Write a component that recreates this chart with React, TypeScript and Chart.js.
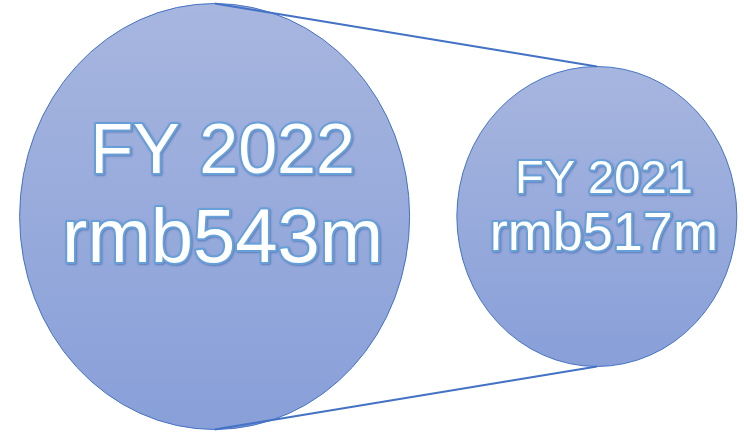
import React, { useEffect, useRef } from "react";
import { Chart, registerables } from "chart.js";

Chart.register(...registerables);

// ---- data ----
const years = ["FY 2022", "FY 2021"];
const revenueLabels = ["rmb543m", "rmb517m"];
const revenueValues = [543, 517];
const xPositions = [0, 1];

// ---- styles (not data) ----
const radiiX = [195, 140];
const radiiY = [213, 150];
const yearFont = [70, 47];
const valueFont = [76, 54];
const yearBaseline = [-44, -24];
const valueBaseline = [45, 33];
const textShiftX = [8, 7];

const bubblePlugin = {
  id: "bubbleDiagram",
  afterDatasetsDraw(chart: any) {
    const ctx = chart.ctx as CanvasRenderingContext2D;
    const meta = chart.getDatasetMeta(0);
    const pts = meta.data.map((p: any) => ({ x: p.x, y: p.y }));
    ctx.save();

    pts.forEach((p: any, i: number) => {
      const g = ctx.createLinearGradient(0, p.y - radiiY[i], 0, p.y + radiiY[i]);
      g.addColorStop(0, "#A7B6DF");
      g.addColorStop(1, "#889FD8");
      ctx.beginPath();
      ctx.ellipse(p.x, p.y, radiiX[i], radiiY[i], 0, 0, Math.PI * 2);
      ctx.fillStyle = g;
      ctx.fill();
      ctx.strokeStyle = "#4472C4";
      ctx.lineWidth = 1;
      ctx.stroke();
    });

    // connector lines (top points & bottom points)
    ctx.strokeStyle = "#4472C4";
    ctx.lineWidth = 2;
    ctx.beginPath();
    ctx.moveTo(pts[0].x, pts[0].y - radiiY[0]);
    ctx.lineTo(pts[1].x, pts[1].y - radiiY[1]);
    ctx.moveTo(pts[0].x, pts[0].y + radiiY[0]);
    ctx.lineTo(pts[1].x, pts[1].y + radiiY[1]);
    ctx.stroke();

    pts.forEach((p: any, i: number) => {
      const drawText = (t: string, size: number, dy: number) => {
        const x = p.x + textShiftX[i];
        ctx.font = `${size}px "Liberation Sans", Arial, sans-serif`;
        ctx.textAlign = "center";
        ctx.textBaseline = "alphabetic";
        ctx.lineJoin = "round";
        ctx.save();
        ctx.shadowColor = "rgba(50,90,160,0.55)";
        ctx.shadowBlur = 2;
        ctx.shadowOffsetX = 1;
        ctx.shadowOffsetY = 1;
        ctx.strokeStyle = "#67A0D8";
        ctx.lineWidth = 4;
        ctx.strokeText(t, x, p.y + dy);
        ctx.restore();
        ctx.fillStyle = "#FFFFFF";
        ctx.fillText(t, x, p.y + dy);
      };
      drawText(years[i], yearFont[i], yearBaseline[i]);
      drawText(revenueLabels[i], valueFont[i], valueBaseline[i]);
    });
    ctx.restore();
  },
};

export default function App() {
  const ref = useRef<HTMLCanvasElement>(null);
  useEffect(() => {
    document.body.style.margin = "0";
    const chart = new Chart(ref.current!, {
      type: "scatter",
      data: {
        labels: years,
        datasets: [
          {
            label: "Revenue",
            data: xPositions.map((x, i) => ({ x, y: 0, v: revenueValues[i] })) as any,
            pointRadius: 0,
            pointHoverRadius: 0,
          },
        ],
      },
      options: {
        animation: false,
        responsive: false,
        layout: { padding: 0 },
        plugins: { legend: { display: false }, tooltip: { enabled: false } },
        scales: {
          x: { type: "linear", display: false, min: -0.5615, max: 1.385 },
          y: { type: "linear", display: false, min: -1, max: 1 },
        },
      },
      plugins: [bubblePlugin],
    });
    return () => chart.destroy();
  }, []);
  return <canvas ref={ref} width={744} height={433} style={{ display: "block" }} />;
}
